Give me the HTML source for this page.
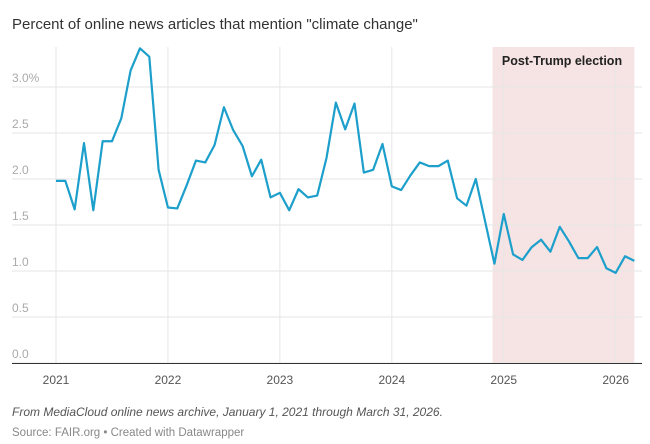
<!DOCTYPE html>
<html><head><meta charset="utf-8"><style>
body{margin:0;background:#fff;font-family:"Liberation Sans",sans-serif;}
#wrap{position:relative;width:650px;height:444px;overflow:hidden}
</style></head><body>
<div id="wrap">
<svg id="chart" width="650" height="444"></svg>
</div>
<script>
const months = 63; // Jan 2021 .. Mar 2026
const values = [1.98,1.98,1.67,2.39,1.66,2.41,2.41,2.66,3.18,3.42,3.33,2.10,
1.69,1.68,1.93,2.20,2.18,2.37,2.78,2.53,2.36,2.03,2.21,1.80,
1.85,1.66,1.89,1.80,1.82,2.23,2.83,2.54,2.82,2.07,2.10,2.38,
1.92,1.88,2.04,2.18,2.14,2.14,2.20,1.79,1.71,2.00,1.54,1.08,
1.62,1.18,1.12,1.26,1.34,1.21,1.48,1.32,1.14,1.14,1.26,1.03,
0.98,1.16,1.11];
const yTicks = [0,0.5,1,1.5,2,2.5,3];
const yTickLabels = ["0.0","0.5","1.0","1.5","2.0","2.5","3.0%"];
const xYears = [2021,2022,2023,2024,2025,2026];
const shadeStart = 46.8, shadeEnd = 62;
const NS="http://www.w3.org/2000/svg";
const svg=document.getElementById('chart');
const x = m => 56 + m*(559.7/60);
const y = v => 363 - v*92;
function el(t,a,txt){const e=document.createElementNS(NS,t);for(const k in a)e.setAttribute(k,a[k]);if(txt!==undefined)e.textContent=txt;svg.appendChild(e);return e;}
let t=el('text',{x:12,y:29,'font-size':15,fill:'#333'},'Percent of online news articles that mention "climate change"');


let r=el('rect',{x:x(shadeStart),y:47,width:x(shadeEnd)-x(shadeStart),height:316,fill:'#f6e4e4'});


yTicks.forEach((v,i)=>{
  let g=el('line',{x1:12,x2:642,y1:y(v),y2:y(v),stroke:'#e6e6e6','stroke-width':1});
  
  
  let l=el('text',{x:12,y:y(v)-5,'font-size':12,fill:'#aaa'},yTickLabels[i]);
  
  
});
xYears.forEach(yr=>{
  const xx=x((yr-2021)*12);
  let g=el('line',{x1:xx,x2:xx,y1:47,y2:363,stroke:'#e6e6e6','stroke-width':1});
  
  
  let l=el('text',{x:xx,y:384,'font-size':12,fill:'#555','text-anchor':'middle'},String(yr));
  
  
});
let a=el('line',{x1:12,x2:642,y1:363.5,y2:363.5,stroke:'#333','stroke-width':1});


let lb=el('text',{x:562,y:65,'font-size':12.5,'font-weight':'bold',fill:'#222','text-anchor':'middle'},'Post-Trump election');


let p=el('polyline',{points:values.map((v,i)=>x(i)+','+y(v)).join(' '),fill:'none',stroke:'#1d9fcb','stroke-width':2.2,'stroke-linejoin':'round'});


let f=el('text',{x:12,y:416,'font-size':12,'font-style':'italic',fill:'#555'},'From MediaCloud online news archive, January 1, 2021 through March 31, 2026.');


let s=el('text',{x:12,y:436,'font-size':11.5,fill:'#888'},'Source: FAIR.org • Created with Datawrapper');


</script>
</body></html>
